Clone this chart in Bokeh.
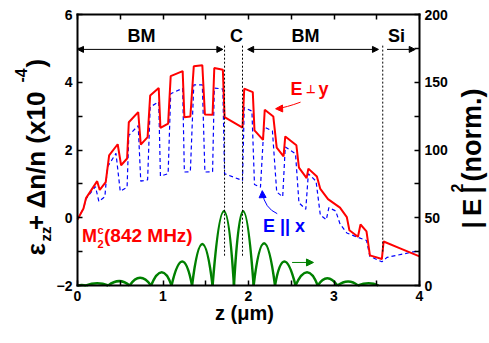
import math
from bokeh.plotting import figure
from bokeh.models import (Range1d, LinearAxis, FixedTicker, Label, Arrow, NormalHead,
                          CustomJSTickFormatter)
from bokeh.embed import file_html
from bokeh.resources import INLINE

# ---------------- data ----------------
red_z = [0.00, 0.07, 0.10, 0.23, 0.26, 0.33, 0.37, 0.47, 0.51, 0.58, 0.60, 0.71, 0.74, 0.82,
         0.85, 0.95, 0.97, 1.06, 1.09, 1.23, 1.25, 1.32, 1.36, 1.46, 1.49, 1.58, 1.60, 1.70,
         1.72, 1.93, 1.95, 2.05, 2.07, 2.17, 2.19, 2.29, 2.33, 2.41, 2.43, 2.56, 2.59, 2.68,
         2.70, 2.80, 2.84, 2.93, 3.07, 3.15, 3.18, 3.28, 3.31, 3.38, 3.42, 3.56, 3.58, 3.78, 4.00]
red_y = [-0.05, 0.27, 0.58, 1.08, 0.82, 1.05, 1.84, 2.17, 1.55, 1.75, 2.82, 3.12, 2.16, 2.38,
         3.61, 3.83, 2.65, 2.78, 4.18, 4.33, 2.97, 2.99, 4.47, 4.50, 3.05, 3.04, 4.42, 4.37,
         2.97, 2.66, 3.81, 3.71, 2.58, 2.30, 3.19, 2.99, 2.07, 1.81, 2.40, 2.14, 1.48, 1.17,
         1.45, 1.22, 0.85, 0.55, 0.30, 0.02, -0.37, -0.56, -0.20, -0.40, -1.11, -1.22, -0.70, -0.91, -1.14]

blue_z = [0.00, 0.07, 0.10, 0.21, 0.25, 0.32, 0.35, 0.45, 0.50, 0.58, 0.60, 0.71, 0.74, 0.82,
          0.85, 0.95, 0.97, 1.06, 1.09, 1.23, 1.25, 1.32, 1.36, 1.46, 1.49, 1.58, 1.60, 1.70,
          1.72, 1.93, 1.95, 2.04, 2.07, 2.14, 2.18, 2.28, 2.33, 2.40, 2.43, 2.55, 2.59, 2.67,
          2.70, 2.79, 2.84, 2.91, 2.94, 3.02, 3.07, 3.15, 3.28, 3.38, 3.42, 3.56, 3.62, 4.00]
blue_y = [-0.05, 0.27, 0.56, 0.92, 0.48, 0.62, 1.50, 1.90, 0.78, 0.90, 2.43, 2.72, 1.08, 1.12,
          3.27, 3.42, 1.23, 1.30, 3.66, 3.82, 1.35, 1.36, 3.92, 3.92, 1.35, 1.36, 3.83, 3.80,
          1.30, 1.10, 3.25, 3.15, 0.98, 0.90, 2.68, 2.56, 0.76, 0.62, 2.09, 1.89, 0.44, 0.25,
          1.30, 1.08, 0.08, -0.06, 0.30, 0.20, -0.18, -0.45, -0.58, -0.67, -1.14, -1.30, -1.17, -0.97]

# |E|^2 (right axis): nodes and lobe maxima
green_zero = [0.00, 0.10, 0.36, 0.61, 0.86, 1.10, 1.34, 1.58, 1.83, 2.06, 2.31, 2.55, 2.81,
              3.04, 3.28, 3.52]
green_peak_z = [0.05, 0.23, 0.49, 0.73, 0.99, 1.23, 1.46, 1.72, 1.93, 2.18, 2.41, 2.69, 2.92,
                3.17, 3.41]
green_peak = [0.3, 1.7, 3.2, 5.7, 9.8, 17.7, 30.7, 54.8, 54.8, 31.2, 17.7, 9.8, 5.4, 3.0, 1.7]

boundaries = [1.72, 1.93, 3.57]
x_ticks = [0, 1, 2, 3, 4]
x_minor = [0.5, 1.5, 2.5, 3.5]
y_ticks = [-2, 0, 2, 4, 6]
y_minor = [-1, 1, 3, 5]
r_ticks = [0, 50, 100, 150, 200]
r_minor = [25, 75, 125, 175]

FONT = "Liberation Sans"

# ---------------- layout: the frame is the whole canvas, axes sit at fixed locations ----
W, H = 489, 343
X0, X1 = 77.0, 419.0      # pixel columns of z = 0 and z = 4
YT, YB = 14.0, 285.0      # pixel rows of the top (6 / 200) and bottom (-2 / 0) of the box
sx = (X1 - X0) / 4.0
sy = (YB - YT) / 8.0
sr = (YB - YT) / 200.0

p = figure(frame_width=W, frame_height=H,
           x_range=Range1d(-X0 / sx, 4 + (W - X1) / sx),
           y_range=Range1d(-2 - (H - YB) / sy, 6 + YT / sy),
           output_backend="svg", toolbar_location=None,
           min_border_left=0, min_border_right=0, min_border_top=0, min_border_bottom=0)
p.extra_y_ranges = {"r": Range1d(-(H - YB) / sr, 200 + YT / sr)}
p.grid.visible = False
p.outline_line_color = None
p.background_fill_color = "white"
p.border_fill_color = "white"


def style(ax, ticks, minor, loc, bounds):
    ax.ticker = FixedTicker(ticks=ticks, minor_ticks=minor)
    ax.fixed_location = loc
    ax.bounds = bounds
    ax.major_tick_in = 5
    ax.major_tick_out = 0
    ax.minor_tick_in = 5
    ax.minor_tick_out = 0
    ax.axis_line_width = 2
    ax.axis_line_cap = "square"
    ax.major_tick_line_width = 1.5
    ax.minor_tick_line_width = 1.5
    ax.major_label_text_font = FONT
    ax.major_label_text_font_style = "bold"
    ax.major_label_text_font_size = "14px"
    ax.major_label_text_color = "black"
    ax.major_label_standoff = 5


style(p.xaxis[0], x_ticks, x_minor, -2, (0, 4))
style(p.yaxis[0], y_ticks, y_minor, 0, (-2, 6))

ax_r = LinearAxis(y_range_name="r")
style(ax_r, r_ticks, r_minor, 4, (0, 200))
p.add_layout(ax_r, "right")

ax_t = LinearAxis(formatter=CustomJSTickFormatter(code="return ''"))
style(ax_t, x_ticks, x_minor, 6, (0, 4))
ax_t.major_label_text_font_size = "1px"
p.add_layout(ax_t, "above")

# ---------------- curves ----------------
p.line(blue_z, blue_y, line_color="blue", line_width=1.2, line_dash="4 3")
p.line(red_z, red_y, line_color="red", line_width=2)
p.quadratic(x0=green_zero[:-1], y0=0, x1=green_zero[1:], y1=0,
            cx=green_peak_z, cy=[2 * h for h in green_peak],
            y_range_name="r", line_color="green", line_width=2.5)

# region boundaries
p.segment(x0=boundaries, y0=[-1.12, -1.12, -1.0], x1=boundaries, y1=[5.1, 5.1, 5.1],
          line_color="black", line_width=1, line_dash="2 2")


def zx(px):
    return (px - X0) / sx


def yy(py):
    return 6 - (py - YT) / sy


MID = 0.35  # distance (in em) from the baseline to the middle of the text box


def txt(s, px, py, size, color="black", align="left"):
    """horizontal text; (px, py) = start (or centre) of the baseline, in pixels"""
    p.add_layout(Label(x=zx(px), y=yy(py - MID * size), text=s, text_font=FONT,
                       text_font_style="bold", text_font_size=f"{size}px",
                       text_color=color, text_align=align, text_baseline="middle"))


def vtxt(s, px, py, size, color="black"):
    """text reading upwards; px = column of the baseline, py = row where it starts"""
    p.add_layout(Label(x=zx(px - MID * size), y=yy(py), text=s, text_font=FONT,
                       text_font_style="bold", text_font_size=f"{size}px",
                       text_color=color, angle=math.pi / 2, text_align="left",
                       text_baseline="middle"))


def arrow(x0, y0, x1, y1, color="black", both=False, size=6, width=1.0):
    head = dict(size=size, fill_color=color, line_color=color, line_width=1)
    p.add_layout(Arrow(x_start=x0, y_start=y0, x_end=x1, y_end=y1,
                       start=NormalHead(**head) if both else None,
                       end=NormalHead(**head), line_color=color, line_width=width))


# region arrows and names
arrow(0.0, 4.97, 1.70, 4.97, both=True)
arrow(1.99, 4.97, 3.52, 4.97, both=True)
arrow(3.62, 4.97, 3.95, 4.97)
txt("BM", 141, 42, 18, align="center")
txt("C", 236, 42, 18, align="center")
txt("BM", 305, 42, 18, align="center")
txt("Si", 396, 42, 18, align="center")

# curve labels
txt("E", 290, 95, 18, color="red")
txt("\u22a5", 305.5, 92, 11, color="red")
txt("y", 318, 95, 18, color="red")
p.quadratic(x0=2.609, y0=3.413, x1=2.33, y1=3.22, cx=2.443, cy=3.257, line_color="red", line_width=1)
arrow(2.36, 3.222, 2.317, 3.218, color="red", size=7)

txt("E || x", 262.5, 231.5, 18, color="blue")
p.quadratic(x0=2.336, y0=0.12, x1=2.163, y1=0.74, cx=2.19, cy=0.28, line_color="blue", line_width=1)
arrow(2.163, 0.70, 2.161, 0.80, color="blue", size=7)

arrow(2.51, -1.32, 2.76, -1.32, color="green", size=7)

txt("M", 81.5, 241.5, 18, color="red")
txt("2", 97.0, 247, 11, color="red")
txt("c", 97.0, 233, 11, color="red")
txt("(842 MHz)", 103.5, 241.5, 19, color="red")

# axis titles
txt("z (\u03bcm)", 244, 319, 20, align="center")

vtxt("\u03b5", 44.5, 255, 26)
vtxt("zz", 50.5, 241, 15)
vtxt(" + \u0394n/n (x10", 44.5, 229.5, 26)
vtxt("-4", 26, 82, 16)
vtxt(")", 44.5, 67, 26)

vtxt("|\u2009E\u2009|", 481, 228, 26)
vtxt("2", 462, 192, 16)
vtxt("(norm.)", 481, 181, 27)

open("out.html", "w").write(file_html(p, INLINE))
